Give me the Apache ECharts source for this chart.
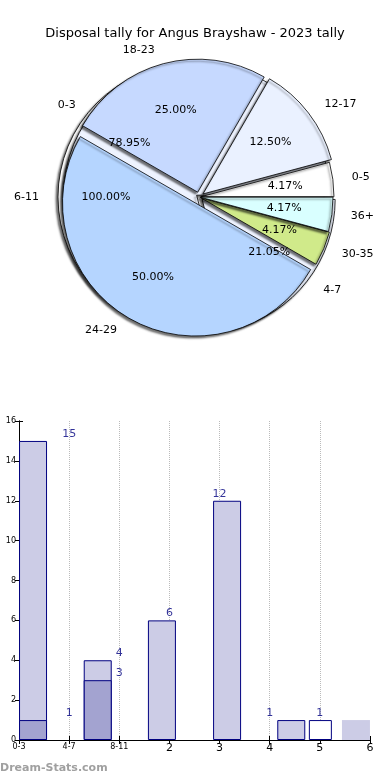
<!DOCTYPE html>
<html><head><meta charset="utf-8">
<script src="https://cdn.jsdelivr.net/npm/echarts@6/dist/echarts.min.js"></script>
<style>html,body{margin:0;padding:0;background:#fff}#c{width:390px;height:780px}</style>
</head><body><div id="c"></div>
<script>
// ---- data ----
const titleText = 'Disposal tally for Angus Brayshaw - 2023 tally';
const pieCats = ['0-5', '12-17', '18-23', '24-29', '30-35', '36+'];
const pieVals = [1, 3, 6, 12, 1, 1];
const backCats = ['0-3', '4-7'];
const backVals = [15, 4];
const thirdCats = ['6-11'];
const thirdVals = [1];
const xTickLabels = ['0-3', '4-7', '8-11', '2', '3', '4', '5', '6'];
const lightX = [0.28, 1.57, 2.85, 4.15, 5.43, 6.72];
const lightY = [15, 4, 6, 12, 1, 1];
const darkX = [0.28, 1.57];
const darkY = [1, 3];
const whiteX = [6.06];
const whiteY = [1];
const noteX = [1, 1, 2, 2, 3, 4, 5, 6];
const noteY = [15, 1, 4, 3, 6, 12, 1, 1];
const watermark = 'Dream-Stats.com';

// ---- style ----
const FONT = 'DejaVu Sans';
const pieColors = {'0-5':'#ffffff','12-17':'#eaf1ff','18-23':'#c6d9ff','24-29':'#b5d5ff','30-35':'#d0ea8a','36+':'#d9ffff','0-3':'#eef3ff','4-7':'#eef3ff','6-11':'#ffffff'};
const explode = {'0-5':2,'12-17':5,'18-23':5,'24-29':7,'30-35':2,'36+':1,'0-3':3,'4-7':4,'6-11':8};
const C = [199, 197];
const R = 133;

function makePie(cats, vals) {
  const total = vals.reduce((a, b) => a + b, 0);
  const sectors = [], pcts = [];
  cats.forEach((cat, i) => {
    const base = {
      type: 'pie', center: C, startAngle: 0, clockwise: false,
      selectedMode: 'multiple', selectedOffset: explode[cat],
      animation: false, silent: true, avoidLabelOverlap: false,
      emphasis: {disabled: true}, labelLine: {show: false, length: 14, length2: 0}
    };
    const mk = (visible) => cats.map((c, j) => j === i ? {
      name: c, value: vals[j], selected: true,
      itemStyle: visible ? {color: pieColors[c], borderColor: '#000', borderWidth: 0.8,
        shadowColor: 'rgba(0,0,0,0.55)', shadowOffsetX: -2, shadowOffsetY: 2, shadowBlur: 2}
        : {color: 'rgba(0,0,0,0)', borderWidth: 0},
      label: {show: true}
    } : {name: c, value: vals[j], itemStyle: {color: 'rgba(0,0,0,0)', borderWidth: 0}, label: {show: false}});
    sectors.push(Object.assign({}, base, {
      radius: [0, R],
      select: {itemStyle: {borderColor: '#000'}},
      label: {position: 'outside', formatter: '{b}', color: '#000', fontSize: 11, fontFamily: FONT, distanceToLabelLine: 5},
      data: mk(true)
    }));
    pcts.push(Object.assign({}, base, {
      radius: [0, 164],
      label: {position: 'inside', color: '#000', fontSize: 11, fontFamily: FONT,
        formatter: p => (p.value / total * 100).toFixed(2) + '%'},
      data: mk(false)
    }));
  });
  return [sectors, pcts];
}

const [s3, p3] = makePie(thirdCats, thirdVals);
const [sB, pB] = makePie(backCats, backVals);
const [sM, pM] = makePie(pieCats, pieVals);

const barBorder = '#000080';
const series = [].concat(s3, sB, sM, p3, pB, pM);

series.push({
  type: 'bar', xAxisIndex: 0, yAxisIndex: 0, barWidth: 23, barGap: '-100%', animation: false, silent: true,
  itemStyle: {color: '#ffffff', borderColor: barBorder, borderWidth: 1},
  data: whiteX.map((x, i) => [x, whiteY[i]])
});
series.push({
  type: 'bar', xAxisIndex: 0, yAxisIndex: 0, barWidth: 28, barGap: '-100%', animation: false, silent: true,
  itemStyle: {color: '#ccccE6', borderColor: barBorder, borderWidth: 1},
  data: lightX.map((x, i) => i === lightX.length - 1 ? {value: [x, lightY[i]], itemStyle: {borderWidth: 0}} : [x, lightY[i]])
});
series.push({
  type: 'bar', xAxisIndex: 0, yAxisIndex: 0, barWidth: 28, barGap: '-100%', animation: false, silent: true,
  itemStyle: {color: '#a3a3d0', borderColor: barBorder, borderWidth: 1},
  data: darkX.map((x, i) => [x, darkY[i]])
});
series.push({
  type: 'scatter', xAxisIndex: 0, yAxisIndex: 0, symbolSize: 1, animation: false, silent: true,
  itemStyle: {color: 'rgba(0,0,0,0)'},
  label: {show: true, position: 'top', distance: 1, color: '#000080', fontSize: 11, fontFamily: FONT,
    formatter: p => String(p.value[1])},
  data: noteX.map((x, i) => [x, noteY[i]])
});

const tickIn = {show: true, inside: true, length: 4, lineStyle: {color: '#000'}};
const option = {
  animation: false,
  backgroundColor: '#fff',
  title: {text: titleText, left: 'center', top: 22,
    textStyle: {fontSize: 13, fontWeight: 'normal', color: '#000', fontFamily: FONT}},
  grid: {left: 19, right: 20, top: 421, bottom: 40, containLabel: false},
  xAxis: [{
    type: 'value', min: 0, max: 7, interval: 1, position: 'bottom',
    axisLine: {show: true, lineStyle: {color: '#000', width: 1}},
    axisTick: tickIn,
    splitLine: {show: true, showMinLine: false, showMaxLine: false, lineStyle: {color: '#bbbbbb', type: 'dotted', width: 1}},
    axisLabel: {margin: 3, color: '#000', fontFamily: FONT,
      formatter: v => { const t = xTickLabels[v]; return t.indexOf('-') >= 0 ? '{s|' + t + '}' : '{b|' + t + '}'; },
      rich: {s: {fontSize: 8, fontFamily: FONT, color: '#000'}, b: {fontSize: 11, fontFamily: FONT, color: '#000'}}}
  }, {
    type: 'value', min: 0, max: 7, interval: 1, position: 'top',
    axisLine: {show: true, lineStyle: {color: '#000', width: 1}},
    axisTick: tickIn, axisLabel: {show: false}, splitLine: {show: false}
  }],
  yAxis: [{
    type: 'value', min: 0, max: 16, interval: 2, position: 'left',
    axisLine: {show: true, lineStyle: {color: '#000', width: 1}},
    axisTick: tickIn, splitLine: {show: false},
    axisLabel: {margin: 3, fontSize: 8, color: '#000', fontFamily: FONT}
  }, {
    type: 'value', min: 0, max: 16, interval: 2, position: 'right',
    axisLine: {show: true, lineStyle: {color: '#000', width: 1}},
    axisTick: tickIn, splitLine: {show: false}, axisLabel: {show: false}
  }],
  graphic: [{type: 'text', left: 0, top: 763, silent: true,
    style: {text: watermark, fill: '#a0a0a0', font: 'bold 11px "DejaVu Sans"'}}],
  series: series
};
const chart = echarts.init(document.getElementById('c'), null, {renderer: 'canvas'});
chart.setOption(option);
</script>
</body></html>
